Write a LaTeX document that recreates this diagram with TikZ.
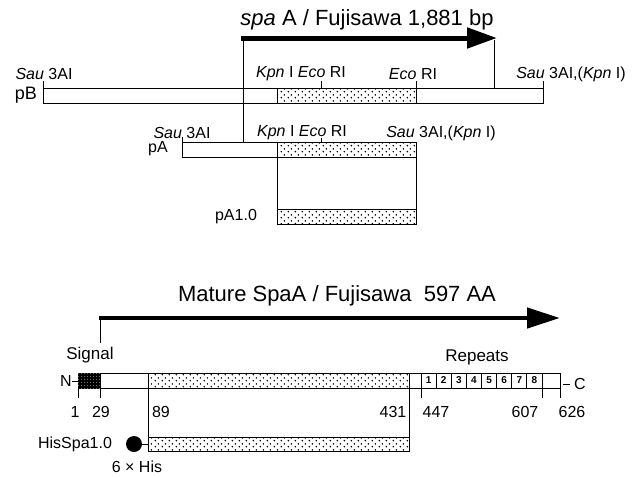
\documentclass[tikz,border=0pt]{standalone}
\usepackage{fontspec}
\setmainfont{Liberation Sans}
\usepackage{tikz}
\usetikzlibrary{arrows.meta,patterns.meta}

\tikzdeclarepattern{
  name=sparsedots,
  type=uncolored,
  bottom left={(0pt,0pt)},
  top right={(7pt,6pt)},
  tile size={(7pt,6pt)},
  code={
    \fill (1.5pt,1.5pt) circle (0.95pt);
    \fill (5pt,4.5pt) circle (0.95pt);
  }
}
\tikzdeclarepattern{
  name=densedots,
  type=uncolored,
  bottom left={(0pt,0pt)},
  top right={(2.6pt,2.6pt)},
  tile size={(2.6pt,2.6pt)},
  code={
    \fill (0.7pt,0.7pt) circle (0.55pt);
  }
}

\begin{document}
\begin{tikzpicture}[
  x=1pt, y=-1pt, line width=0.8pt,
  bar/.style={draw, inner sep=0pt, outer sep=0pt, anchor=north west,
              minimum height=15pt},
  dotted box/.style={bar, pattern=sparsedots, pattern color=black},
  lbl/.style={inner sep=0pt, font=\fontsize{16}{18}\selectfont},
  big/.style={inner sep=0pt, font=\fontsize{22}{24}\selectfont},
  rep/.style={bar, minimum width=15.125pt, font=\fontsize{10}{12}\selectfont\bfseries},
  gene/.style={line width=5pt, -{Triangle[length=30pt, width=20pt]}}
]
  \useasboundingbox (0,0) rectangle (640,477);

  % spaA gene, clones pB / pA / pA1.0
  \node[big] (gtitle) at (367,20) {\textit{spa} A / Fujisawa 1,881 bp};
  \coordinate (gstart) at (243,38);
  \coordinate (gend)   at (497,38);
  \draw[gene] (241,38) -- (gend);

  \node[bar, minimum width=500pt] (pB)    at (43,88)  {};
  \node[dotted box, minimum width=139pt] (pBins) at (277,88) {};
  \node[bar, minimum width=234pt] (pA)    at (182,142) {};
  \node[dotted box, minimum width=139pt] (pAins) at (277,142) {};
  \node[dotted box, minimum width=139pt] (pA10)  at (277,209) {};

  \draw (gstart) -- (gstart |- pA.north);
  \draw (494,40) -- (494,88);
  \draw (pAins.south west) -- (pA10.north west);
  \draw (pAins.south east) -- (pA10.north east);

  \node[lbl, font=\fontsize{18}{20}\selectfont] (lpB) at (26,95)  {pB};
  \node[lbl] (lpA) at (158,149) {pA};
  \node[lbl] (lpA10) at (236,217) {pA1.0};

  \node[lbl] (sB1) at (44,74)  {\textit{Sau} 3AI};
  \node[lbl] (kB)  at (301,74) {\textit{Kpn} I \textit{Eco} RI};
  \node[lbl] (eB)  at (413,74) {\textit{Eco} RI};
  \node[lbl] (sB2) at (571,74) {\textit{Sau} 3AI,(\textit{Kpn} I)};
  \draw (pB.north west) -- ++(0,-7);
  \draw (321,88) -- (321,81);
  \draw (pBins.north east) -- ++(0,-7);
  \draw (pB.north east) -- ++(0,-7);

  \node[lbl] (sA1) at (182,133) {\textit{Sau} 3AI};
  \node[lbl] (kA)  at (302,133) {\textit{Kpn} I \textit{Eco} RI};
  \node[lbl] (sA2) at (441,133) {\textit{Sau} 3AI,(\textit{Kpn} I)};
  \draw (pA.north west) -- ++(0,-5);
  \draw (321,142) -- (321,138);

  % mature SpaA protein
  \node[big] (mtitle) at (337,296) {Mature SpaA / Fujisawa\ \ 597 AA};
  \coordinate (mstart) at (100,318);
  \coordinate (mend)   at (560,318);
  \draw[gene, -{Triangle[length=33pt, width=20pt]}, line width=4.5pt] (99,318) -- (mend);
  \draw (mstart) -- ++(0,25);
  \node[lbl, font=\fontsize{17}{20}\selectfont] (signal)  at (90,355)  {Signal};
  \node[lbl, font=\fontsize{17}{20}\selectfont] (repeats) at (477,357) {Repeats};

  \node[bar, minimum width=482pt] (prot) at (78,373) {};
  \node[bar, minimum width=22pt, fill=black] (sig) at (78,373) {};
  \fill[pattern=densedots, pattern color=white!75!black] (sig.north west) rectangle (sig.south east);
  \node[dotted box, minimum width=261pt] (mid) at (148,373) {};
  \foreach \i in {1,...,8}
    \node[rep] (r\i) at ({421+(\i-1)*15.125},373) {\i};

  \node[lbl] (N) at (66,381) {N};
  \node[lbl] (C) at (580,384) {C};
  \draw (N.east) -- (prot.west |- N.east);
  \draw ([xshift=-4pt]C.west) -- ++(-7,0);

  \foreach \x in {78,100,421,542,560}
    \draw (\x,388) -- (\x,398);

  \node[lbl] (n1)   at (75,412)  {1};
  \node[lbl] (n29)  at (101,412) {29};
  \node[lbl] (n89)  at (161,412) {89};
  \node[lbl] (n431) at (393,412) {431};
  \node[lbl] (n447) at (436,412) {447};
  \node[lbl] (n607) at (525,412) {607};
  \node[lbl] (n626) at (572,412) {626};

  \node[dotted box, minimum width=261pt, minimum height=14pt] (his) at (148,437) {};
  \draw (mid.south west) -- (his.north west);
  \draw (mid.south east) -- (his.north east);
  \node[circle, fill, inner sep=0pt, minimum size=16pt] (tag) at (134,444) {};
  \draw (tag) -- (his.west);
  \node[lbl] (lhis)  at (75,444)  {HisSpa1.0};
  \node[lbl] (l6his) at (137,467) {6 × His};
\end{tikzpicture}
\end{document}
